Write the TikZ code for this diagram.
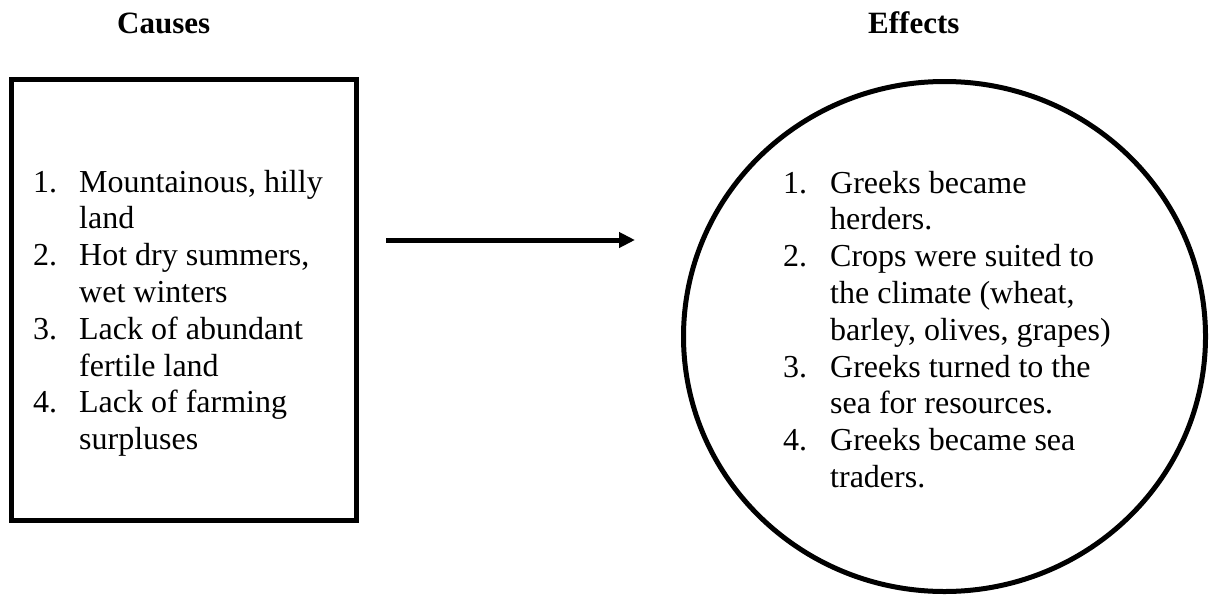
\documentclass[tikz,border=0pt]{standalone}
\usepackage{fontspec}
\setmainfont{Liberation Serif}
\usetikzlibrary{arrows.meta,shapes.geometric}
\begin{document}
\begin{tikzpicture}[x=1pt,y=-1pt,
  txt/.style={inner sep=0pt, anchor=base west, font=\fontsize{32}{36.8}\selectfont},
  titletxt/.style={inner sep=0pt, anchor=base west, font=\fontsize{31}{36}\selectfont\bfseries},
  frame/.style={draw=black, line width=5pt, inner sep=0pt},
  conn/.style={line width=5pt, -{Triangle[length=16pt,width=15pt]}}]
\useasboundingbox (0,0) rectangle (1214,597);
\node[titletxt] (causes) at (117,33) {Causes};
\node[titletxt] (effects) at (868,33) {Effects};
\node[frame, rectangle, minimum width=345pt, minimum height=441pt] (box) at (184,300) {};
\node[frame, ellipse, minimum width=522pt, minimum height=510pt] (circ) at (944.5,336.5) {};
\node[txt] (causelist) at (33,192) {\begin{tabular}[t]{@{}p{46pt}@{}l@{}}
1. & Mountainous, hilly\\
 & land\\
2. & Hot dry summers,\\
 & wet winters\\
3. & Lack of abundant\\
 & fertile land\\
4. & Lack of farming\\
 & surpluses
\end{tabular}};
\node[txt] (effectlist) at (783,193) {\begin{tabular}[t]{@{}p{47pt}@{}l@{}}
1. & Greeks became\\
 & herders.\\
2. & Crops were suited to\\
 & the climate (wheat,\\
 & barley, olives, grapes)\\
3. & Greeks turned to the\\
 & sea for resources.\\
4. & Greeks became sea\\
 & traders.
\end{tabular}};
\coordinate (a1) at (386,240);
\coordinate (a2) at (635,240);
\draw[conn] (a1) -- (a2);
\end{tikzpicture}
\end{document}
